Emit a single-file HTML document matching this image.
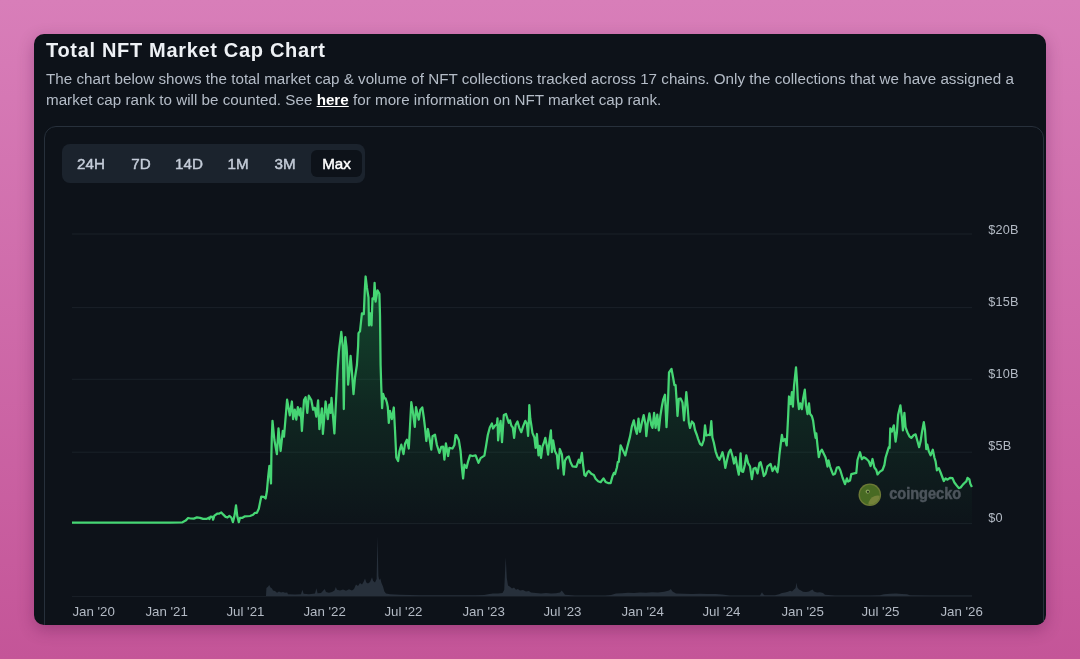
<!DOCTYPE html>
<html>
<head>
<meta charset="utf-8">
<title>Total NFT Market Cap Chart</title>
<style>
  html, body { margin: 0; padding: 0; }
  body {
    width: 1080px; height: 659px; overflow: hidden; position: relative;
    font-family: "Liberation Sans", sans-serif;
    background: linear-gradient(180deg, #d87eb9 0%, #c45598 100%);
  }
  .card {
    position: absolute; left: 34px; top: 34px; width: 1012px; height: 591px;
    background: #0d1219; border-radius: 10px; overflow: hidden;
    will-change: transform;
    box-shadow: 0 5px 16px rgba(70, 10, 60, 0.30);
  }
  h1 {
    position: absolute; left: 12px; top: 4px; margin: 0;
    font-size: 20px; line-height: 24px; font-weight: 700; color: #eef1f5;
    white-space: nowrap; letter-spacing: 0.68px;
  }
  .desc {
    position: absolute; left: 12px; top: 35px; margin: 0; width: 990px;
    font-size: 15.2px; line-height: 20.5px; color: #b4bcc7; white-space: nowrap; letter-spacing: 0.012px;
  }
  .desc a { color: #ffffff; font-weight: 700; text-decoration: underline; }
  .inner {
    position: absolute; left: 10px; top: 91.5px; width: 1000.4px; height: 520px;
    border: 1px solid #27303b; border-radius: 12px; box-sizing: border-box;
    background: #0d1219;
  }
  .tabs {
    position: absolute; left: 28px; top: 110px; width: 303px; height: 39px;
    background: #1b232d; border-radius: 8px;
  }
  .tabs span {
    position: absolute; top: 6px; height: 27px; line-height: 28.6px;
    font-size: 15.2px; font-weight: 400; color: #c4ccd8; text-align: center;
    white-space: nowrap; -webkit-text-stroke: 0.45px currentColor;
  }
  .tabs span.on { background: #0d1219; color: #ffffff; border-radius: 6px; }
  .ylab {
    position: absolute; left: 954.3px; font-size: 12.7px; line-height: 14px;
    color: #b3bac4; white-space: nowrap; letter-spacing: 0.15px;
  }
  .xlab {
    position: absolute; top: 570.7px; margin-left: -0.6px; font-size: 13.3px; line-height: 14px;
    color: #b3bac4; white-space: nowrap;
  }
  svg.chart { position: absolute; left: 0; top: 0; }
</style>
</head>
<body>
<div class="card">
  <h1>Total NFT Market Cap Chart</h1>
  <p class="desc"><span id="l1">The chart below shows the total market cap &amp; volume of NFT collections tracked across 17 chains. Only the collections that we have assigned a</span><br><span id="l2">market cap rank to will be counted. See <a>here</a> for more information on NFT market cap rank.</span></p>
  <div class="inner"></div>
  <div class="tabs">
    <span style="left:4px;width:50px">24H</span>
    <span style="left:54px;width:50px">7D</span>
    <span style="left:100px;width:54px">14D</span>
    <span style="left:152px;width:48px">1M</span>
    <span style="left:198px;width:50px">3M</span>
    <span class="on" style="left:249px;width:51px">Max</span>
  </div>
  <svg class="chart" width="1012" height="590" viewBox="34 34 1012 590">
    <defs><linearGradient id="ag" x1="0" y1="275" x2="0" y2="524" gradientUnits="userSpaceOnUse"><stop offset="0" stop-color="#22c55e" stop-opacity="0.31"/><stop offset="0.55" stop-color="#22c55e" stop-opacity="0.115"/><stop offset="1" stop-color="#22c55e" stop-opacity="0.012"/></linearGradient></defs>
    <rect x="72" y="233.5" width="900" height="1" fill="#1a2128"/>
    <rect x="72" y="307.1" width="900" height="1" fill="#1a2128"/>
    <rect x="72" y="378.8" width="900" height="1" fill="#1a2128"/>
    <rect x="72" y="451.7" width="900" height="1" fill="#1a2128"/>
    <rect x="72" y="523.1" width="900" height="1" fill="#1a2128"/>
    <rect x="72" y="596" width="900" height="1" fill="#181e26"/>
    <path d="M266.0,596.0 L266.4,588.0 L268.0,586.8 L269.2,585.0 L270.5,587.5 L272.0,588.5 L273.0,590.5 L275.0,591.0 L277.0,592.8 L279.0,591.5 L281.0,592.6 L283.0,592.0 L285.0,592.8 L287.2,592.5 L288.0,594.3 L295.0,594.6 L301.0,594.3 L302.4,589.7 L303.6,593.8 L309.0,594.2 L315.0,593.6 L316.4,588.3 L317.6,593.3 L321.0,593.0 L324.7,589.0 L326.0,592.0 L329.0,592.8 L332.0,592.0 L334.5,590.5 L335.8,587.0 L337.0,589.8 L340.0,590.5 L343.0,589.5 L346.0,590.8 L349.0,589.3 L352.0,590.5 L354.0,589.0 L356.0,584.5 L358.0,586.0 L360.0,583.0 L362.0,584.5 L363.5,582.0 L365.0,578.6 L366.3,582.5 L368.0,583.5 L370.0,582.0 L372.0,577.2 L373.2,581.0 L375.0,582.5 L376.6,579.0 L377.5,536.1 L378.4,576.0 L379.2,580.0 L380.3,578.6 L381.5,583.0 L383.0,586.5 L384.4,591.5 L386.0,593.5 L390.0,594.3 L400.0,594.8 L420.0,595.2 L440.0,595.3 L460.0,595.3 L475.0,595.2 L484.0,595.0 L488.0,594.3 L493.0,593.6 L498.0,593.4 L502.5,593.0 L504.2,590.0 L505.7,557.2 L506.8,578.0 L508.0,585.6 L510.0,586.8 L512.0,588.6 L514.0,587.5 L516.0,589.8 L517.8,589.0 L520.0,590.6 L523.0,590.0 L526.0,591.4 L528.9,591.0 L531.0,592.6 L536.0,593.0 L541.0,593.4 L546.0,593.0 L551.0,593.6 L556.0,593.2 L560.0,592.6 L561.7,590.6 L563.5,592.8 L565.0,594.8 L575.0,595.4 L590.0,595.5 L605.0,595.5 L611.0,595.0 L616.0,593.6 L622.0,593.2 L628.0,592.8 L634.0,593.0 L640.0,592.4 L646.0,592.8 L652.0,592.2 L658.0,592.4 L664.0,591.8 L669.0,590.6 L670.8,588.9 L672.5,591.5 L676.0,593.4 L684.0,593.8 L692.0,594.0 L700.0,593.8 L708.0,594.1 L716.0,594.0 L722.0,594.6 L730.0,595.4 L745.0,595.5 L760.0,595.4 L761.2,593.5 L762.0,592.2 L763.0,594.0 L764.5,595.2 L775.0,595.3 L779.0,594.2 L782.0,593.0 L785.0,592.6 L788.0,591.8 L790.0,590.8 L792.0,591.5 L794.0,589.5 L795.6,588.0 L796.4,582.8 L797.4,587.5 L799.0,589.6 L801.0,590.5 L803.0,591.8 L806.0,592.0 L809.0,591.4 L811.0,590.2 L812.5,589.5 L814.0,591.6 L817.0,592.4 L820.0,592.2 L823.0,593.0 L825.0,594.8 L835.0,595.4 L850.0,595.5 L870.0,595.5 L880.0,595.3 L884.0,594.2 L890.0,593.8 L896.0,593.6 L902.0,594.0 L907.0,594.3 L910.0,595.3 L930.0,595.5 L950.0,595.5 L972.0,595.6 L972.0,596.0 Z" fill="#27303b"/>
    <path d="M72.0,522.6 L120.0,522.6 L170.0,522.5 L182.5,522.3 L185.6,520.6 L188.1,518.0 L190.6,518.5 L193.8,518.6 L196.9,517.4 L200.0,517.9 L203.1,518.9 L206.9,518.8 L208.8,517.8 L209.4,519.1 L210.6,516.6 L212.5,516.9 L213.1,519.7 L214.4,515.6 L217.5,513.5 L219.4,513.5 L221.3,512.4 L223.1,514.4 L225.6,516.9 L227.5,517.5 L229.4,515.9 L231.3,517.5 L232.9,522.2 L234.4,516.3 L236.0,505.3 L237.3,516.3 L238.8,522.2 L240.0,517.8 L242.5,517.8 L245.0,516.3 L250.0,516.0 L253.1,514.8 L255.0,512.8 L256.9,512.8 L258.8,508.8 L260.3,501.3 L261.3,496.6 L263.8,496.9 L265.6,498.5 L266.9,491.3 L268.1,477.5 L269.4,465.9 L271.0,483.5 L271.4,455.0 L271.8,437.5 L272.5,420.9 L274.4,440.0 L276.9,454.1 L278.5,428.4 L280.6,451.0 L282.8,430.9 L284.0,436.6 L287.1,399.7 L289.8,415.4 L291.9,401.5 L293.1,419.1 L294.8,409.7 L296.3,419.7 L297.8,407.2 L299.4,415.4 L300.6,408.4 L301.9,431.0 L304.0,400.0 L305.6,397.2 L307.3,412.9 L308.8,395.7 L311.3,400.0 L313.1,409.7 L314.8,407.8 L316.3,416.6 L318.1,400.3 L319.4,429.1 L321.9,408.4 L322.9,433.9 L325.6,401.5 L327.8,419.1 L329.4,404.7 L330.6,412.9 L331.5,397.8 L334.4,433.5 L336.3,395.0 L337.5,371.3 L338.8,352.5 L339.4,347.0 L341.3,331.9 L342.8,347.0 L343.8,409.1 L344.8,347.0 L345.3,337.2 L346.5,347.0 L346.9,352.5 L348.1,384.7 L349.4,371.3 L350.6,355.9 L351.9,371.3 L353.5,394.1 L355.0,377.5 L356.9,365.0 L358.1,346.3 L358.5,333.1 L360.0,331.3 L361.9,313.4 L363.8,314.1 L364.8,290.0 L365.6,276.5 L366.9,287.5 L368.5,297.5 L369.0,325.4 L370.3,313.4 L371.5,325.4 L372.5,298.4 L373.8,299.1 L374.6,282.8 L375.6,301.6 L377.5,290.3 L379.4,293.8 L380.0,315.0 L380.6,365.0 L381.3,387.5 L382.1,408.1 L383.1,393.9 L384.4,398.4 L385.6,398.4 L386.9,402.5 L387.8,407.0 L388.8,422.9 L390.0,410.9 L391.9,419.1 L393.8,407.5 L395.0,430.0 L396.3,457.5 L398.1,461.0 L399.4,451.3 L401.3,444.7 L403.5,454.1 L405.0,443.8 L406.9,439.7 L408.8,448.5 L410.0,426.3 L411.3,402.2 L412.8,411.3 L414.8,426.9 L416.0,407.2 L417.5,413.8 L418.8,419.7 L420.3,410.0 L422.3,407.4 L423.8,417.5 L425.0,427.5 L426.3,441.0 L427.9,429.0 L429.4,437.5 L431.3,449.7 L432.5,436.3 L435.0,434.7 L436.9,445.0 L439.4,452.9 L441.3,446.9 L443.1,446.6 L444.4,459.7 L445.9,443.4 L448.1,456.0 L449.4,447.8 L452.5,448.5 L454.4,445.0 L455.6,435.0 L456.3,435.0 L458.8,440.0 L460.6,451.3 L461.9,467.5 L463.1,478.5 L464.4,464.7 L466.5,467.9 L468.1,461.3 L470.0,455.3 L472.5,456.0 L475.6,455.3 L478.5,462.9 L480.6,458.1 L484.4,455.6 L486.0,446.3 L487.8,435.0 L489.8,427.5 L491.9,423.4 L493.1,428.5 L495.0,425.6 L496.9,424.4 L497.5,418.4 L498.1,440.4 L499.4,427.5 L500.6,420.9 L502.0,442.2 L503.8,415.0 L506.0,414.0 L507.5,418.8 L508.8,422.9 L510.0,420.3 L511.3,425.6 L512.8,427.5 L514.1,437.9 L515.6,425.0 L517.5,421.5 L519.4,428.1 L521.3,432.2 L523.1,426.3 L525.3,420.9 L526.9,423.8 L528.1,436.0 L529.0,417.5 L529.3,405.2 L530.3,418.8 L531.3,425.0 L532.5,433.1 L534.4,437.5 L535.6,447.9 L536.9,434.0 L538.5,455.4 L539.8,445.9 L541.0,457.9 L542.5,446.3 L544.0,442.5 L545.3,437.8 L546.9,446.3 L548.1,454.7 L549.4,441.3 L550.9,430.3 L551.9,452.2 L553.1,440.3 L555.0,451.3 L556.9,455.0 L558.1,468.5 L559.8,449.0 L561.9,454.4 L563.8,474.7 L565.0,460.6 L566.9,457.5 L568.8,456.5 L570.6,462.5 L572.5,466.3 L576.3,466.9 L578.8,459.7 L580.0,462.9 L581.9,452.8 L583.1,465.0 L584.4,475.0 L585.6,476.0 L587.5,472.0 L588.8,470.9 L591.3,473.8 L593.8,475.0 L595.6,478.8 L598.1,481.3 L600.6,482.2 L603.5,478.4 L605.6,481.9 L608.1,483.1 L610.6,483.1 L612.5,476.3 L614.0,472.8 L615.0,474.1 L616.9,467.5 L617.8,461.9 L618.8,461.9 L620.6,445.3 L622.5,449.4 L625.3,455.4 L627.5,446.3 L630.0,436.6 L631.9,426.3 L633.8,420.3 L635.4,429.0 L636.9,433.8 L638.5,418.7 L640.0,431.9 L641.9,422.5 L643.7,415.1 L645.6,425.0 L646.3,436.1 L647.8,422.5 L649.4,413.4 L651.3,425.0 L652.5,427.9 L654.1,412.8 L655.6,427.9 L657.3,414.7 L658.8,430.4 L660.3,416.3 L661.9,406.3 L663.1,400.0 L665.0,394.7 L666.5,427.2 L668.1,398.8 L669.0,372.5 L671.5,369.0 L673.1,377.5 L674.4,385.0 L675.6,385.0 L676.9,405.0 L677.5,416.0 L678.8,398.8 L680.6,398.5 L682.5,402.5 L684.0,420.4 L685.3,405.0 L686.3,392.2 L687.5,405.0 L688.8,422.5 L690.0,427.9 L691.9,421.5 L693.8,423.8 L695.0,430.0 L696.9,435.0 L698.1,438.8 L700.0,443.8 L701.9,445.4 L703.8,440.0 L705.0,425.3 L706.3,435.5 L708.1,435.0 L709.4,434.5 L710.0,435.1 L711.3,421.2 L712.4,437.5 L713.8,442.5 L715.6,451.3 L717.5,456.9 L719.4,459.7 L721.0,456.3 L722.5,452.2 L724.0,458.8 L725.3,467.9 L726.9,460.6 L728.8,452.5 L730.6,449.7 L732.5,456.3 L734.0,463.5 L735.6,457.2 L737.3,467.5 L738.8,474.7 L740.6,453.4 L741.5,471.3 L743.1,471.9 L744.8,465.0 L746.3,455.3 L748.1,463.1 L750.0,466.3 L751.9,479.1 L753.5,468.8 L755.6,467.8 L757.5,473.5 L759.4,463.1 L760.6,462.2 L762.3,468.8 L763.8,476.0 L765.6,473.8 L767.5,466.3 L770.6,464.0 L772.5,471.0 L775.0,466.5 L776.3,470.0 L777.5,472.2 L778.5,465.0 L779.4,455.0 L780.6,445.0 L781.9,434.9 L783.1,441.0 L785.0,439.0 L786.7,445.4 L787.4,431.0 L788.2,415.0 L789.0,396.5 L790.6,404.1 L791.9,392.2 L792.9,406.6 L794.0,386.3 L795.3,373.8 L796.0,367.4 L796.9,380.0 L797.8,398.8 L799.0,409.1 L800.3,403.4 L801.9,409.1 L803.1,398.8 L804.8,389.7 L806.0,405.0 L807.5,414.1 L809.0,403.4 L810.0,413.8 L811.9,416.3 L813.1,420.6 L814.4,430.6 L815.6,437.9 L816.3,433.4 L817.5,445.6 L818.8,457.2 L820.0,452.5 L821.9,449.7 L823.8,453.8 L825.6,457.5 L827.5,466.6 L828.5,460.3 L830.0,466.3 L831.3,470.0 L833.1,474.7 L835.0,473.8 L836.9,467.5 L838.8,467.2 L840.4,470.5 L842.5,477.5 L845.0,484.1 L846.9,478.4 L848.1,481.6 L850.0,480.6 L851.3,474.2 L856.3,472.8 L857.5,460.0 L860.0,452.2 L861.9,459.1 L863.8,457.2 L866.3,458.8 L868.8,461.3 L870.6,466.0 L872.5,459.0 L874.4,467.5 L876.3,470.0 L877.5,474.4 L880.0,471.6 L882.5,470.0 L884.4,465.0 L885.6,457.5 L887.5,451.3 L888.8,447.2 L889.6,447.9 L890.3,428.4 L891.9,431.6 L893.8,425.3 L895.6,441.6 L896.9,432.5 L898.1,415.0 L900.4,405.3 L901.9,417.5 L902.9,430.4 L904.4,412.8 L905.6,427.5 L907.5,432.5 L909.4,436.3 L911.3,437.9 L913.8,435.0 L915.6,434.4 L917.5,441.3 L919.1,447.2 L920.6,441.3 L921.9,432.5 L923.8,422.2 L925.0,430.0 L926.3,449.1 L927.3,444.7 L928.8,451.3 L930.6,455.4 L932.8,449.7 L934.4,457.5 L935.6,461.3 L936.9,470.4 L938.8,468.1 L940.6,472.5 L941.9,476.0 L943.8,481.0 L945.6,478.4 L947.5,479.7 L950.0,477.8 L952.5,478.1 L954.4,482.5 L956.3,485.0 L958.8,488.1 L960.6,487.5 L963.1,484.4 L965.0,482.5 L966.3,481.3 L967.5,477.8 L969.4,479.4 L970.3,483.8 L971.9,486.9 L971.9,524 L72,524 Z" fill="url(#ag)"/>
    <path d="M72.0,522.6 L120.0,522.6 L170.0,522.5 L182.5,522.3 L185.6,520.6 L188.1,518.0 L190.6,518.5 L193.8,518.6 L196.9,517.4 L200.0,517.9 L203.1,518.9 L206.9,518.8 L208.8,517.8 L209.4,519.1 L210.6,516.6 L212.5,516.9 L213.1,519.7 L214.4,515.6 L217.5,513.5 L219.4,513.5 L221.3,512.4 L223.1,514.4 L225.6,516.9 L227.5,517.5 L229.4,515.9 L231.3,517.5 L232.9,522.2 L234.4,516.3 L236.0,505.3 L237.3,516.3 L238.8,522.2 L240.0,517.8 L242.5,517.8 L245.0,516.3 L250.0,516.0 L253.1,514.8 L255.0,512.8 L256.9,512.8 L258.8,508.8 L260.3,501.3 L261.3,496.6 L263.8,496.9 L265.6,498.5 L266.9,491.3 L268.1,477.5 L269.4,465.9 L271.0,483.5 L271.4,455.0 L271.8,437.5 L272.5,420.9 L274.4,440.0 L276.9,454.1 L278.5,428.4 L280.6,451.0 L282.8,430.9 L284.0,436.6 L287.1,399.7 L289.8,415.4 L291.9,401.5 L293.1,419.1 L294.8,409.7 L296.3,419.7 L297.8,407.2 L299.4,415.4 L300.6,408.4 L301.9,431.0 L304.0,400.0 L305.6,397.2 L307.3,412.9 L308.8,395.7 L311.3,400.0 L313.1,409.7 L314.8,407.8 L316.3,416.6 L318.1,400.3 L319.4,429.1 L321.9,408.4 L322.9,433.9 L325.6,401.5 L327.8,419.1 L329.4,404.7 L330.6,412.9 L331.5,397.8 L334.4,433.5 L336.3,395.0 L337.5,371.3 L338.8,352.5 L339.4,347.0 L341.3,331.9 L342.8,347.0 L343.8,409.1 L344.8,347.0 L345.3,337.2 L346.5,347.0 L346.9,352.5 L348.1,384.7 L349.4,371.3 L350.6,355.9 L351.9,371.3 L353.5,394.1 L355.0,377.5 L356.9,365.0 L358.1,346.3 L358.5,333.1 L360.0,331.3 L361.9,313.4 L363.8,314.1 L364.8,290.0 L365.6,276.5 L366.9,287.5 L368.5,297.5 L369.0,325.4 L370.3,313.4 L371.5,325.4 L372.5,298.4 L373.8,299.1 L374.6,282.8 L375.6,301.6 L377.5,290.3 L379.4,293.8 L380.0,315.0 L380.6,365.0 L381.3,387.5 L382.1,408.1 L383.1,393.9 L384.4,398.4 L385.6,398.4 L386.9,402.5 L387.8,407.0 L388.8,422.9 L390.0,410.9 L391.9,419.1 L393.8,407.5 L395.0,430.0 L396.3,457.5 L398.1,461.0 L399.4,451.3 L401.3,444.7 L403.5,454.1 L405.0,443.8 L406.9,439.7 L408.8,448.5 L410.0,426.3 L411.3,402.2 L412.8,411.3 L414.8,426.9 L416.0,407.2 L417.5,413.8 L418.8,419.7 L420.3,410.0 L422.3,407.4 L423.8,417.5 L425.0,427.5 L426.3,441.0 L427.9,429.0 L429.4,437.5 L431.3,449.7 L432.5,436.3 L435.0,434.7 L436.9,445.0 L439.4,452.9 L441.3,446.9 L443.1,446.6 L444.4,459.7 L445.9,443.4 L448.1,456.0 L449.4,447.8 L452.5,448.5 L454.4,445.0 L455.6,435.0 L456.3,435.0 L458.8,440.0 L460.6,451.3 L461.9,467.5 L463.1,478.5 L464.4,464.7 L466.5,467.9 L468.1,461.3 L470.0,455.3 L472.5,456.0 L475.6,455.3 L478.5,462.9 L480.6,458.1 L484.4,455.6 L486.0,446.3 L487.8,435.0 L489.8,427.5 L491.9,423.4 L493.1,428.5 L495.0,425.6 L496.9,424.4 L497.5,418.4 L498.1,440.4 L499.4,427.5 L500.6,420.9 L502.0,442.2 L503.8,415.0 L506.0,414.0 L507.5,418.8 L508.8,422.9 L510.0,420.3 L511.3,425.6 L512.8,427.5 L514.1,437.9 L515.6,425.0 L517.5,421.5 L519.4,428.1 L521.3,432.2 L523.1,426.3 L525.3,420.9 L526.9,423.8 L528.1,436.0 L529.0,417.5 L529.3,405.2 L530.3,418.8 L531.3,425.0 L532.5,433.1 L534.4,437.5 L535.6,447.9 L536.9,434.0 L538.5,455.4 L539.8,445.9 L541.0,457.9 L542.5,446.3 L544.0,442.5 L545.3,437.8 L546.9,446.3 L548.1,454.7 L549.4,441.3 L550.9,430.3 L551.9,452.2 L553.1,440.3 L555.0,451.3 L556.9,455.0 L558.1,468.5 L559.8,449.0 L561.9,454.4 L563.8,474.7 L565.0,460.6 L566.9,457.5 L568.8,456.5 L570.6,462.5 L572.5,466.3 L576.3,466.9 L578.8,459.7 L580.0,462.9 L581.9,452.8 L583.1,465.0 L584.4,475.0 L585.6,476.0 L587.5,472.0 L588.8,470.9 L591.3,473.8 L593.8,475.0 L595.6,478.8 L598.1,481.3 L600.6,482.2 L603.5,478.4 L605.6,481.9 L608.1,483.1 L610.6,483.1 L612.5,476.3 L614.0,472.8 L615.0,474.1 L616.9,467.5 L617.8,461.9 L618.8,461.9 L620.6,445.3 L622.5,449.4 L625.3,455.4 L627.5,446.3 L630.0,436.6 L631.9,426.3 L633.8,420.3 L635.4,429.0 L636.9,433.8 L638.5,418.7 L640.0,431.9 L641.9,422.5 L643.7,415.1 L645.6,425.0 L646.3,436.1 L647.8,422.5 L649.4,413.4 L651.3,425.0 L652.5,427.9 L654.1,412.8 L655.6,427.9 L657.3,414.7 L658.8,430.4 L660.3,416.3 L661.9,406.3 L663.1,400.0 L665.0,394.7 L666.5,427.2 L668.1,398.8 L669.0,372.5 L671.5,369.0 L673.1,377.5 L674.4,385.0 L675.6,385.0 L676.9,405.0 L677.5,416.0 L678.8,398.8 L680.6,398.5 L682.5,402.5 L684.0,420.4 L685.3,405.0 L686.3,392.2 L687.5,405.0 L688.8,422.5 L690.0,427.9 L691.9,421.5 L693.8,423.8 L695.0,430.0 L696.9,435.0 L698.1,438.8 L700.0,443.8 L701.9,445.4 L703.8,440.0 L705.0,425.3 L706.3,435.5 L708.1,435.0 L709.4,434.5 L710.0,435.1 L711.3,421.2 L712.4,437.5 L713.8,442.5 L715.6,451.3 L717.5,456.9 L719.4,459.7 L721.0,456.3 L722.5,452.2 L724.0,458.8 L725.3,467.9 L726.9,460.6 L728.8,452.5 L730.6,449.7 L732.5,456.3 L734.0,463.5 L735.6,457.2 L737.3,467.5 L738.8,474.7 L740.6,453.4 L741.5,471.3 L743.1,471.9 L744.8,465.0 L746.3,455.3 L748.1,463.1 L750.0,466.3 L751.9,479.1 L753.5,468.8 L755.6,467.8 L757.5,473.5 L759.4,463.1 L760.6,462.2 L762.3,468.8 L763.8,476.0 L765.6,473.8 L767.5,466.3 L770.6,464.0 L772.5,471.0 L775.0,466.5 L776.3,470.0 L777.5,472.2 L778.5,465.0 L779.4,455.0 L780.6,445.0 L781.9,434.9 L783.1,441.0 L785.0,439.0 L786.7,445.4 L787.4,431.0 L788.2,415.0 L789.0,396.5 L790.6,404.1 L791.9,392.2 L792.9,406.6 L794.0,386.3 L795.3,373.8 L796.0,367.4 L796.9,380.0 L797.8,398.8 L799.0,409.1 L800.3,403.4 L801.9,409.1 L803.1,398.8 L804.8,389.7 L806.0,405.0 L807.5,414.1 L809.0,403.4 L810.0,413.8 L811.9,416.3 L813.1,420.6 L814.4,430.6 L815.6,437.9 L816.3,433.4 L817.5,445.6 L818.8,457.2 L820.0,452.5 L821.9,449.7 L823.8,453.8 L825.6,457.5 L827.5,466.6 L828.5,460.3 L830.0,466.3 L831.3,470.0 L833.1,474.7 L835.0,473.8 L836.9,467.5 L838.8,467.2 L840.4,470.5 L842.5,477.5 L845.0,484.1 L846.9,478.4 L848.1,481.6 L850.0,480.6 L851.3,474.2 L856.3,472.8 L857.5,460.0 L860.0,452.2 L861.9,459.1 L863.8,457.2 L866.3,458.8 L868.8,461.3 L870.6,466.0 L872.5,459.0 L874.4,467.5 L876.3,470.0 L877.5,474.4 L880.0,471.6 L882.5,470.0 L884.4,465.0 L885.6,457.5 L887.5,451.3 L888.8,447.2 L889.6,447.9 L890.3,428.4 L891.9,431.6 L893.8,425.3 L895.6,441.6 L896.9,432.5 L898.1,415.0 L900.4,405.3 L901.9,417.5 L902.9,430.4 L904.4,412.8 L905.6,427.5 L907.5,432.5 L909.4,436.3 L911.3,437.9 L913.8,435.0 L915.6,434.4 L917.5,441.3 L919.1,447.2 L920.6,441.3 L921.9,432.5 L923.8,422.2 L925.0,430.0 L926.3,449.1 L927.3,444.7 L928.8,451.3 L930.6,455.4 L932.8,449.7 L934.4,457.5 L935.6,461.3 L936.9,470.4 L938.8,468.1 L940.6,472.5 L941.9,476.0 L943.8,481.0 L945.6,478.4 L947.5,479.7 L950.0,477.8 L952.5,478.1 L954.4,482.5 L956.3,485.0 L958.8,488.1 L960.6,487.5 L963.1,484.4 L965.0,482.5 L966.3,481.3 L967.5,477.8 L969.4,479.4 L970.3,483.8 L971.9,486.9" fill="none" stroke="#46d674" stroke-width="2.25" stroke-linejoin="round" stroke-linecap="butt"/>
    <g><clipPath id="gc"><circle cx="869.8" cy="494.7" r="10"/></clipPath><circle cx="869.8" cy="494.7" r="11.3" fill="#6c7a36"/><circle cx="869.8" cy="494.7" r="10" fill="#486a23"/><g clip-path="url(#gc)"><ellipse cx="876" cy="502.5" rx="8" ry="6.5" fill="#74823a" transform="rotate(-35 876 502.5)"/></g><circle cx="867.7" cy="491.6" r="2.1" fill="#86a05a"/><circle cx="868" cy="491.8" r="1.1" fill="#24331b"/></g>
    <text x="889.2" y="499.3" font-family="Liberation Sans, sans-serif" font-weight="700" font-size="15.8" fill="#4d555c" stroke="#4d555c" stroke-width="0.5" textLength="72" lengthAdjust="spacingAndGlyphs">coingecko</text>
  </svg>
  <div class="ylab" style="top:189px">$20B</div>
  <div class="ylab" style="top:261px">$15B</div>
  <div class="ylab" style="top:333px">$10B</div>
  <div class="ylab" style="top:405px">$5B</div>
  <div class="ylab" style="top:477px">$0</div>

  <div class="xlab" style="left:39px">Jan '20</div>
  <div class="xlab" style="left:112px">Jan '21</div>
  <div class="xlab" style="left:193px">Jul '21</div>
  <div class="xlab" style="left:270px">Jan '22</div>
  <div class="xlab" style="left:351px">Jul '22</div>
  <div class="xlab" style="left:429px">Jan '23</div>
  <div class="xlab" style="left:510px">Jul '23</div>
  <div class="xlab" style="left:588px">Jan '24</div>
  <div class="xlab" style="left:669px">Jul '24</div>
  <div class="xlab" style="left:748px">Jan '25</div>
  <div class="xlab" style="left:828px">Jul '25</div>
  <div class="xlab" style="left:907px">Jan '26</div>
</div>
</body>
</html>
